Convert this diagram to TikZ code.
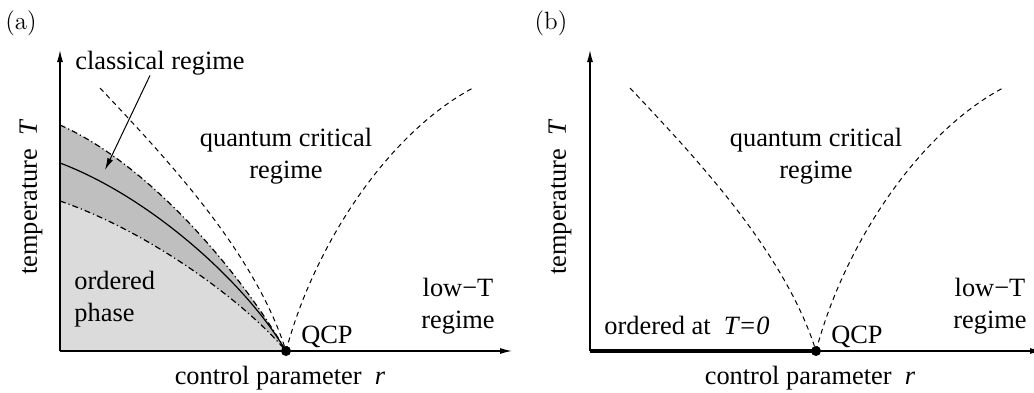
\documentclass[tikz,border=0pt]{standalone}
\usepackage{fontspec}
\newfontfamily\timesfont{Liberation Serif}
\usetikzlibrary{positioning, calc}
\usetikzlibrary{arrows.meta}

\definecolor{ordgray}{gray}{0.86}
\definecolor{clsgray}{gray}{0.75}

\tikzset{
    lbl/.style = {inner sep=0pt, align=center},
    paneltag/.style = {inner sep=0pt, font=\rmfamily\fontsize{12.5pt}{14pt}\selectfont},
    axis/.style = {-{Latex[length=6pt,width=3pt]}, line width=0.6pt},
    crossover/.style = {dash pattern=on 2.5pt off 2pt, line width=0.5pt},
    classline/.style = {dash pattern=on 3pt off 1.5pt on 0.6pt off 1.5pt, line width=0.6pt},
    qcpdot/.style = {circle, fill=black, inner sep=0pt, minimum size=5pt},
}

\begin{document}
\begin{tikzpicture}[x=0.5pt, y=0.5pt, font=\timesfont\fontsize{13.2pt}{16pt}\selectfont]
    \useasboundingbox (0,0) rectangle (1034,392);

    % (a) with the classical region
    \coordinate (Oa) at (60,41);
    \fill[ordgray] (Oa) -- (60,191) .. controls (150,160) and (245,90) .. (286,41) -- cycle;
    \fill[clsgray] (60,267) .. controls (150,227) and (240,120) .. (286,41)
        .. controls (245,90) and (150,160) .. (60,191) -- cycle;
    \draw[classline] (60,267) .. controls (150,227) and (240,120) .. (286,41);
    \draw[line width=0.6pt] (60,229) .. controls (150,195) and (245,110) .. (286,41);
    \draw[classline] (60,191) .. controls (150,160) and (245,90) .. (286,41);
    \draw[crossover] (100,304) .. controls (165,235) and (255,140) .. (286,41);
    \draw[crossover] (286,41) .. controls (315,150) and (390,260) .. (473,304);
    \draw[axis] (Oa) -- (60,342);
    \draw[axis] (Oa) -- (512,41);
    \node[qcpdot] (qcpA) at (286,41) {};

    \node[paneltag] (tagA) at (21,369) {(a)};
    \node[lbl] (classA) at (160,329) {classical regime};
    \coordinate (classtipA) at (105,222);
    \draw[-{Latex[length=6pt,width=3pt]}, line width=0.5pt] ([xshift=-5pt]classA.south) -- (classtipA);
    \node[lbl] (qcregA) at (286,236) {quantum critical\\regime};
    \node[lbl, align=left, anchor=west] (orderA) at (74,93) {ordered\\phase};
    \node[lbl] (lowtA) at (458,86) {low−T\\regime};
    \node[lbl] (qcplabA) at (327,55) {QCP};
    \node[lbl] (xlabA) at (280,14) {control parameter\ \ \textit{r}};
    \node[lbl, rotate=90] (ylabA) at (31,195) {temperature\ \ \textit{T}};

    % (b) only the T=0 line
    \begin{scope}[xshift=265pt]
        \coordinate (Ob) at (60,41);
        \draw[crossover] (100,304) .. controls (165,235) and (255,140) .. (286,41);
        \draw[crossover] (286,41) .. controls (315,150) and (390,260) .. (473,304);
        \draw[axis] (Ob) -- (60,342);
        \draw[axis] (Ob) -- (512,41);
        \node[qcpdot] (qcpB) at (286,41) {};
        \draw[line width=2.2pt] (Ob) -- (qcpB.center);

        \node[paneltag] (tagB) at (21,369) {(b)};
        \node[lbl] (qcregB) at (286,236) {quantum critical\\regime};
        \node[lbl] (orderB) at (157,67) {ordered at\ \ \textit{T=0}};
        \node[lbl] (lowtB) at (460,86) {low−T\\regime};
        \node[lbl] (qcplabB) at (327,55) {QCP};
        \node[lbl] (xlabB) at (280,14) {control parameter\ \ \textit{r}};
        \node[lbl, rotate=90] (ylabB) at (30,195) {temperature\ \ \textit{T}};
    \end{scope}
\end{tikzpicture}
\end{document}
